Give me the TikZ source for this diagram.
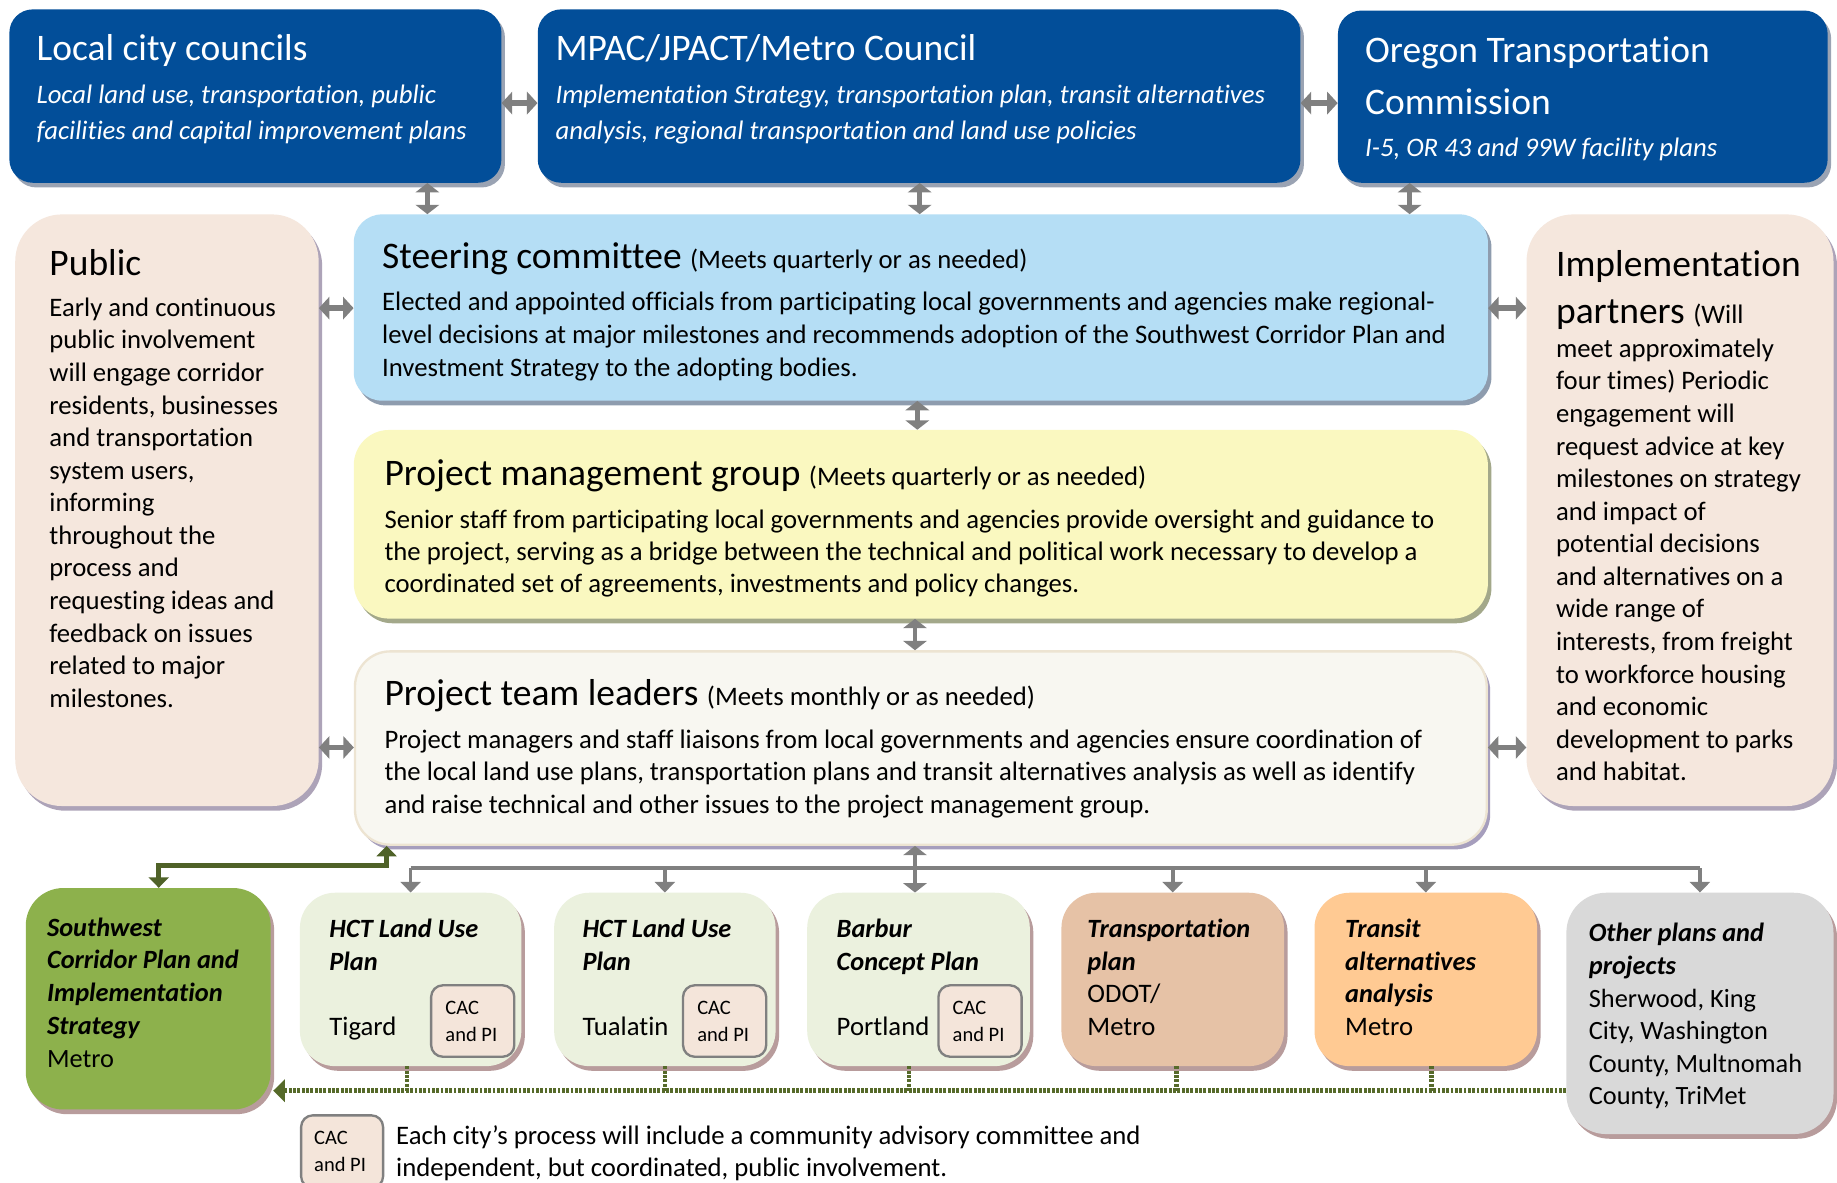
\documentclass[tikz,border=0pt]{standalone}
\usepackage{fontspec}
\setmainfont{Carlito}[Ligatures={NoCommon,NoContextual},RawFeature={-liga;-clig;-calt;-dlig}]
\usetikzlibrary{arrows.meta,fit,shadows,calc}
\definecolor{navy}{HTML}{024E99}
\definecolor{navysh}{HTML}{9AA3B3}
\definecolor{steerfill}{HTML}{B5DEF5}
\definecolor{steersh}{HTML}{8E9CAE}
\definecolor{pmgfill}{HTML}{FAF8C0}
\definecolor{pmgsh}{HTML}{A3A88A}
\definecolor{ptlfill}{HTML}{F8F7F1}
\definecolor{ptlborder}{HTML}{EDE4D2}
\definecolor{ptlsh}{HTML}{A69EBD}
\definecolor{peach}{HTML}{F5E7DD}
\definecolor{peachsh}{HTML}{ADA3B8}
\definecolor{swgreen}{HTML}{8DB14C}
\definecolor{botsh}{HTML}{B89C9C}
\definecolor{hctfill}{HTML}{EBF1DE}
\definecolor{transpfill}{HTML}{E6C2A6}
\definecolor{transitfill}{HTML}{FFCA93}
\definecolor{otherfill}{HTML}{D9D9D9}
\definecolor{cacfill}{HTML}{F4E5DA}
\definecolor{arrgray}{HTML}{808080}
\definecolor{dkgreen}{HTML}{4F6228}
\definecolor{dotgreen}{HTML}{566A2A}
\newcommand\ptext[3]{\parbox[t]{1200pt}{\fontsize{#1}{#2}\selectfont #3}}
\tikzset{
  box/.style={rounded corners=#1pt, inner sep=0pt, draw=none},
  shd/.style={drop shadow={shadow xshift=3pt,shadow yshift=-4pt,fill=#1,opacity=1}},
  tx/.style={anchor=base west, inner sep=0pt},
  wtx/.style={anchor=base west, inner sep=0pt, text=white},
  cacbox/.style={rounded corners=10pt, inner sep=0pt, fill=cacfill, draw=arrgray, line width=2pt},
  dblh/.style={draw=arrgray, line width=5pt, {Triangle[width=19pt,length=9pt]}-{Triangle[width=19pt,length=9pt]}},
  dblv/.style={draw=arrgray, line width=4pt, {Triangle[width=20pt,length=8pt]}-{Triangle[width=20pt,length=8pt]}},
  busline/.style={draw=arrgray, line width=4pt},
  drop/.style={draw=arrgray, line width=3pt, -{Triangle[width=17pt,length=9pt]}},
  grn/.style={draw=dkgreen, line width=4pt, {Triangle[width=17pt,length=9pt]}-{Triangle[width=17pt,length=9pt]}},
  dotl/.style={draw=dotgreen, line width=4pt, dash pattern=on 2.5pt off 1.2pt},
}
\begin{document}
\begin{tikzpicture}[x=1pt,y=-1pt]
\useasboundingbox (0,0) rectangle (1568,1009);
\fill[white] (0,0) rectangle (1568,1009);

% ---------- top row ----------
\node[fit={(8,8)(428,156)}, box=20, fill=navy, shd=navysh] (lcc) {};
\node[fit={(459,8)(1110,156)}, box=20, fill=navy, shd=navysh] (mpac) {};
\node[fit={(1142,9)(1560,156)}, box=20, fill=navy, shd=navysh] (otc) {};

\node[wtx] (lcct) at (31,52) {\ptext{32}{38}{Local city councils}};
\node[wtx] (lccb) at (31,88) {\ptext{22.8}{31}{\itshape Local land use, transportation, public\\facilities and capital improvement plans}};
\node[wtx] (mpact) at (474,52) {\ptext{32}{38}{MPAC/JPACT/Metro Council}};
\node[wtx] (mpacb) at (474,88) {\ptext{22.8}{31}{\itshape Implementation Strategy, transportation plan, transit alternatives\\analysis, regional transportation and land use policies}};
\node[wtx] (otct) at (1165,53) {\ptext{32}{45}{Oregon Transportation\\Commission}};
\node[wtx] (otcb) at (1165,134) {\ptext{22.8}{31}{\itshape I-5, OR 43 and 99W facility plans}};

% ---------- middle ----------
\node[fit={(13,183)(272,688)}, box=40, fill=peach, shd=peachsh] (pub) {};
\node[fit={(1303,183)(1565,688)}, box=40, fill=peach, shd=peachsh] (imp) {};
\node[fit={(302,183)(1270,342)}, box=24, fill=steerfill, shd=steersh] (steer) {};
\node[fit={(302,367)(1270,528)}, box=30, fill=pmgfill, shd=pmgsh] (pmg) {};
\node[fit={(303,556)(1269,721)}, box=30, fill=ptlfill, draw=ptlborder, line width=2pt, shd=ptlsh] (ptl) {};

\node[tx] (pubt) at (42,235) {\ptext{32}{38}{Public}};
\node[tx] (pubb) at (42,270) {\ptext{22.8}{27.8}{Early and continuous\\public involvement\\will engage corridor\\residents, businesses\\and transportation\\system users,\\informing\\throughout the\\process and\\requesting ideas and\\feedback on issues\\related to major\\milestones.}};

\node[tx] (impt) at (1328,236) {\ptext{32}{40}{Implementation\\partners {\fontsize{22.8}{26}\selectfont(Will}}};
\node[tx] (impb) at (1328,305) {\ptext{22.8}{27.8}{meet approximately\\four times) Periodic\\engagement will\\request advice at key\\milestones on strategy\\and impact of\\potential decisions\\and alternatives on a\\wide range of\\interests, from freight\\to workforce housing\\and economic\\development to parks\\and habitat.}};

\node[tx] (steert) at (326,229) {\ptext{32}{36}{Steering committee {\fontsize{22.8}{26}\selectfont (Meets quarterly or as needed)}}};
\node[tx] (steerb) at (326,265) {\ptext{22.8}{28}{Elected and appointed officials from participating local governments and agencies make regional-\\level decisions at major milestones and recommends adoption of the Southwest Corridor Plan and\\Investment Strategy to the adopting bodies.}};

\node[tx] (pmgt) at (328,414) {\ptext{32}{36}{Project management group {\fontsize{22.8}{26}\selectfont (Meets quarterly or as needed)}}};
\node[tx] (pmgb) at (328,451) {\ptext{22.8}{27.5}{Senior staff from participating local governments and agencies provide oversight and guidance to\\the project, serving as a bridge between the technical and political work necessary to develop a\\coordinated set of agreements, investments and policy changes.}};

\node[tx] (ptlt) at (328,602) {\ptext{32}{36}{Project team leaders {\fontsize{22.8}{26}\selectfont (Meets monthly or as needed)}}};
\node[tx] (ptlb) at (328,639) {\ptext{22.8}{27.5}{Project managers and staff liaisons from local governments and agencies ensure coordination of\\the local land use plans, transportation plans and transit alternatives analysis as well as identify\\and raise technical and other issues to the project management group.}};

% ---------- bottom row ----------
\node[fit={(22,758)(231,947)}, box=32, fill=swgreen, shd=botsh] (sw) {};
\node[fit={(256,762)(445,910)}, box=30, fill=hctfill, shd=botsh] (tig) {};
\node[fit={(473,762)(662,910)}, box=30, fill=hctfill, shd=botsh] (tua) {};
\node[fit={(689,762)(879,910)}, box=30, fill=hctfill, shd=botsh] (bar) {};
\node[fit={(906,762)(1096,910)}, box=30, fill=transpfill, shd=botsh] (trp) {};
\node[fit={(1122,762)(1312,910)}, box=30, fill=transitfill, shd=botsh] (trn) {};
\node[fit={(1337,762)(1565,968)}, box=34, fill=otherfill, shd=botsh] (oth) {};

\node[tx] (swt) at (40,799) {\ptext{22.5}{28}{\bfseries\itshape Southwest\\Corridor Plan and\\Implementation\\Strategy\\\mdseries\upshape Metro}};
\node[tx] (tigt) at (281,800) {\ptext{22.5}{28}{\bfseries\itshape HCT Land Use\\Plan}};
\node[tx] (tigc) at (281,884) {\ptext{22.8}{28}{Tigard}};
\node[tx] (tuat) at (497,800) {\ptext{22.5}{28}{\bfseries\itshape HCT Land Use\\Plan}};
\node[tx] (tuac) at (497,884) {\ptext{22.8}{28}{Tualatin}};
\node[tx] (bart) at (714,800) {\ptext{22.5}{28}{\bfseries\itshape Barbur\\Concept Plan}};
\node[tx] (barc) at (714,884) {\ptext{22.8}{28}{Portland}};
\node[tx] (trpt) at (928,800) {\ptext{22.5}{28}{{\bfseries\itshape Transportation\\plan}\\{\fontsize{22.8}{28}\selectfont ODOT/}\\{\fontsize{22.8}{28}\selectfont Metro}}};
\node[tx] (trnt) at (1148,800) {\ptext{22.5}{28}{{\bfseries\itshape Transit\\alternatives\\analysis}\\{\fontsize{22.8}{28}\selectfont Metro}}};
\node[tx] (otht) at (1356,804) {\ptext{22.5}{27.8}{{\bfseries\itshape Other plans and\\projects}\\Sherwood, King\\City, Washington\\County, Multnomah\\County, TriMet}};

% CAC boxes
\node[fit={(368,841)(439,902)}, cacbox] (cac1) {};
\node[fit={(583,841)(654,902)}, cacbox] (cac2) {};
\node[fit={(801,841)(872,902)}, cacbox] (cac3) {};
\node[fit={(257,952)(327,1014)}, cacbox] (cacl) {};
\node[tx] (cac1t) at (380,866) {\ptext{17.5}{23}{CAC\\and PI}};
\node[tx] (cac2t) at (595,866) {\ptext{17.5}{23}{CAC\\and PI}};
\node[tx] (cac3t) at (813,866) {\ptext{17.5}{23}{CAC\\and PI}};
\node[tx] (caclt) at (268,977) {\ptext{17.5}{23}{CAC\\and PI}};
\node[tx] (legt) at (338,977) {\ptext{22.8}{27}{Each city’s process will include a community advisory committee and\\independent, but coordinated, public involvement.}};

% ---------- connectors ----------
\draw[dblh] (lcc.east |- 0,88) -- (mpac.west |- 0,88);
\draw[dblh] (mpac.east |- 0,88) -- (otc.west |- 0,88);
\draw[dblv] ([xshift=63pt]steer.north west |- lcc.south) -- ([xshift=63pt]steer.north west);
\draw[dblv] (steer.north -| 785,0) -- (mpac.south -| 785,0);
\draw[dblv] ([xshift=-67pt]steer.north east |- otc.south) -- ([xshift=-67pt]steer.north east);
\draw[dblh] (pub.east |- 0,263) -- (steer.west |- 0,263);
\draw[dblh] (steer.east |- 0,263) -- (imp.west |- 0,263);
\draw[dblh] (pub.east |- 0,638) -- (ptl.west |- 0,638);
\draw[dblh] (ptl.east |- 0,638) -- (imp.west |- 0,638);
\draw[dblv] (steer.south -| 783,0) -- (pmg.north -| 783,0);
\draw[dblv] (pmg.south -| 781,0) -- (ptl.north -| 781,0);

% distribution bus
\coordinate (bus) at (0,741);
\draw[busline] (tig.north |- bus) -- (oth.north |- bus);
\draw[drop] (tig.north |- bus) -- (tig.north);
\draw[drop] (tua.north |- bus) -- (tua.north);
\draw[drop] (trp.north |- bus) -- (trp.north);
\draw[drop] (trn.north |- bus) -- (trn.north);
\draw[drop] (oth.north |- bus) -- (oth.north);
\draw[dblv] (ptl.south -| 781,0) -- (bar.north -| 781,0);

% green link
\coordinate (gbus) at (0,739);
\draw[grn] ([xshift=9pt]sw.north) -- ([xshift=9pt]sw.north |- gbus) -- ([xshift=28pt]ptl.south west |- gbus) -- ([xshift=28pt]ptl.south west);

% dotted feedback line
\coordinate (dbus) at (0,931);
\draw[dotl] ([xshift=-3pt]tig.south) -- ([xshift=-3pt]tig.south |- dbus);
\draw[dotl] (tua.south) -- (tua.south |- dbus);
\draw[dotl] ([xshift=-8pt]bar.south) -- ([xshift=-8pt]bar.south |- dbus);
\draw[dotl] ([xshift=3pt]trp.south) -- ([xshift=3pt]trp.south |- dbus);
\draw[dotl] ([xshift=5pt]trn.south) -- ([xshift=5pt]trn.south |- dbus);
\draw[dotl] (oth.west |- dbus) -- ([xshift=12pt]sw.east |- dbus);
\draw[draw=dotgreen, line width=4pt, -{Triangle[width=19pt,length=10pt]}] ([xshift=13pt]sw.east |- dbus) -- ([xshift=2pt]sw.east |- dbus);
\end{tikzpicture}
\end{document}
